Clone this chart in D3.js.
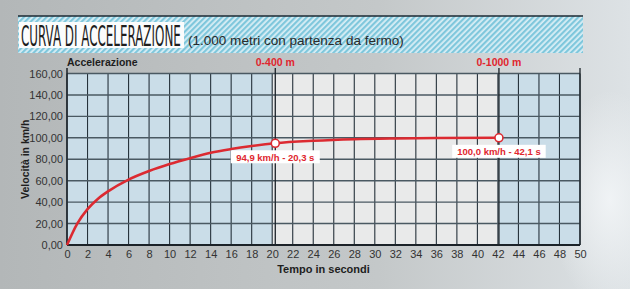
<!DOCTYPE html>
<html>
<head>
<meta charset="utf-8">
<script src="https://cdn.jsdelivr.net/npm/d3@7"></script>
<style>
  body { margin: 0; padding: 0; overflow: hidden; }
  svg { display: block; font-family: "Liberation Sans", Arial, sans-serif; }
</style>
</head>
<body>
<svg id="chart" width="630" height="289"></svg>
<script>
const time   = [0, 1, 2, 3, 4, 6, 8, 10, 12, 14, 16, 18, 20.3, 24, 28, 32, 36, 42.1];
const speed  = [0, 20, 33.5, 43, 50, 61, 69, 75.5, 81, 86, 89.5, 92.3, 94.9, 97.2, 98.7, 99.4, 99.8, 100];
const xTicks = d3.range(0, 51, 2);
const yTicks = [0, 20, 40, 60, 80, 100, 120, 140, 160];
const marks  = [{ t: 20.3, v: 94.9, label: '0-400 m', text: '94,9 km/h - 20,3 s' },
                { t: 42.1, v: 100,  label: '0-1000 m', text: '100,0 km/h - 42,1 s' }];

const width = 630, height = 289;
const svg = d3.select('#chart');
const defs = svg.append('defs');

// background gradient
const bg = defs.append('linearGradient').attr('id', 'bg');
bg.append('stop').attr('offset', '0%').attr('stop-color', '#b3b7b8');
bg.append('stop').attr('offset', '60%').attr('stop-color', '#c4c8c9');
bg.append('stop').attr('offset', '100%').attr('stop-color', '#dde2e5');
svg.append('rect').attr('width', width).attr('height', height).attr('fill', 'url(#bg)');

const glow = defs.append('radialGradient').attr('id', 'glow');
glow.append('stop').attr('offset', '0%').attr('stop-color', '#f2f5f7').attr('stop-opacity', 0.9);
glow.append('stop').attr('offset', '100%').attr('stop-color', '#f2f5f7').attr('stop-opacity', 0);
svg.append('ellipse').attr('cx', 610).attr('cy', 200).attr('rx', 60).attr('ry', 110).attr('fill', 'url(#glow)');

// hatched title band
const pat = defs.append('pattern').attr('id', 'hatch')
  .attr('width', 4).attr('height', 4)
  .attr('patternUnits', 'userSpaceOnUse')
  .attr('patternTransform', 'rotate(45)');
pat.append('rect').attr('width', 4).attr('height', 4).attr('fill', '#d9eef5');
pat.append('rect').attr('width', 2.2).attr('height', 4).attr('fill', '#7fc7dc');

svg.append('rect').attr('x', 18).attr('y', 16).attr('width', 565).attr('height', 37).attr('fill', 'url(#hatch)');
svg.append('line').attr('x1', 18).attr('x2', 583).attr('y1', 16).attr('y2', 16)
  .attr('stroke', '#1d2a33').attr('stroke-width', 1.5);

svg.append('rect').attr('x', 19).attr('y', 22).attr('width', 165).attr('height', 26).attr('fill', '#fbfcfc');

// fit a text into a given width by horizontal scaling
function fitText(sel, x0, y0, w, sy) {
  const nat = sel.node().getComputedTextLength();
  sel.attr('transform', `translate(${x0},${y0}) scale(${w / nat},${sy})`);
}
const title = svg.append('text')
  .attr('font-family', '"Liberation Sans Narrow", "DejaVu Sans Condensed", sans-serif')
  .attr('font-size', 22).attr('fill', '#1e1e1e')
  .text('CURVA DI ACCELERAZIONE');
fitText(title, 21, 46, 160, 1.3);
const sub = svg.append('text')
  .attr('font-size', 12).attr('fill', '#2a2a2a')
  .text('(1.000 metri con partenza da fermo)');
fitText(sub, 188, 45, 216, 1);

// scales
const x = d3.scaleLinear().domain([0, 50]).range([67, 580]);
const y = d3.scaleLinear().domain([0, 160]).range([245, 73.5]);

// zone fills
svg.append('rect').attr('x', x(0)).attr('y', y(160)).attr('width', x(20) - x(0)).attr('height', y(0) - y(160)).attr('fill', '#cadde8');
svg.append('rect').attr('x', x(20)).attr('y', y(160)).attr('width', x(42) - x(20)).attr('height', y(0) - y(160)).attr('fill', '#e9eaea');
svg.append('rect').attr('x', x(42)).attr('y', y(160)).attr('width', x(50) - x(42)).attr('height', y(0) - y(160)).attr('fill', '#cadde8');

// grid
svg.append('g').selectAll('line').data(xTicks).join('line')
  .attr('x1', d => x(d)).attr('x2', d => x(d))
  .attr('y1', y(0)).attr('y2', y(160))
  .attr('stroke', '#26323b').attr('stroke-width', 1.1);
svg.append('g').selectAll('line').data(yTicks).join('line')
  .attr('x1', x(0)).attr('x2', x(50))
  .attr('y1', d => y(d)).attr('y2', d => y(d))
  .attr('stroke', '#4a5962').attr('stroke-width', 1.4);

// axes
const xAxis = svg.append('g').attr('transform', `translate(0,${y(0)})`)
  .call(d3.axisBottom(x).tickValues(xTicks).tickSize(0).tickPadding(5));
xAxis.select('.domain').remove();
xAxis.selectAll('text').attr('font-size', 11).attr('fill', '#333').attr('font-family', '"Liberation Sans", Arial, sans-serif');

const yAxis = svg.append('g').attr('transform', `translate(${x(0)},0)`)
  .call(d3.axisLeft(y).tickValues(yTicks).tickSize(0).tickPadding(4)
    .tickFormat(d => d3.format('.2f')(d).replace('.', ',')));
yAxis.select('.domain').remove();
yAxis.selectAll('text').attr('font-size', 11).attr('fill', '#333').attr('font-family', '"Liberation Sans", Arial, sans-serif');

// frame lines
svg.append('line').attr('x1', x(0)).attr('x2', x(50)).attr('y1', y(0)).attr('y2', y(0)).attr('stroke', '#1b2228').attr('stroke-width', 2);
svg.append('line').attr('x1', x(0)).attr('x2', x(0)).attr('y1', y(0)).attr('y2', 68).attr('stroke', '#1b2228').attr('stroke-width', 1.5);
svg.append('line').attr('x1', x(50)).attr('x2', x(50)).attr('y1', y(0)).attr('y2', 68).attr('stroke', '#1b2228').attr('stroke-width', 1.3);

// markers lines
svg.append('g').selectAll('line').data(marks).join('line')
  .attr('x1', d => x(d.t)).attr('x2', d => x(d.t))
  .attr('y1', y(0)).attr('y2', 68)
  .attr('stroke', '#1b2228').attr('stroke-width', 1.3);

svg.append('g').selectAll('text').data(marks).join('text')
  .attr('x', d => x(d.t)).attr('y', 66)
  .attr('text-anchor', 'middle').attr('font-weight', 'bold').attr('font-size', 10.5)
  .attr('fill', '#e0262e').text(d => d.label);

svg.append('text').attr('x', 67).attr('y', 66).attr('font-weight', 'bold')
  .attr('font-size', 10.5).attr('fill', '#1e1e1e').text('Accelerazione');

// curve
const line = d3.line().x((d, i) => x(time[i])).y(d => y(d)).curve(d3.curveMonotoneX);
svg.append('path').datum(speed).attr('d', line)
  .attr('fill', 'none').attr('stroke', '#dc2a31').attr('stroke-width', 2.6);

// point labels
const lab = svg.append('g').selectAll('g').data(marks).join('g')
  .attr('transform', d => `translate(${x(d.t)},${y(d.v) + 14})`);
lab.append('rect').attr('x', d => -(d.text.length * 2.25) - 4).attr('y', -7)
  .attr('width', d => d.text.length * 4.5 + 8).attr('height', 13).attr('fill', '#fff');
lab.append('text').attr('text-anchor', 'middle').attr('y', 3.5)
  .attr('font-weight', 'bold').attr('font-size', 9.5).attr('fill', '#e0262e')
  .text(d => d.text);

svg.append('g').selectAll('circle').data(marks).join('circle')
  .attr('cx', d => x(d.t)).attr('cy', d => y(d.v)).attr('r', 4)
  .attr('fill', '#fff').attr('stroke', '#dc2a31').attr('stroke-width', 1.6);

// axis titles
svg.append('text').attr('x', x(25)).attr('y', 273).attr('text-anchor', 'middle')
  .attr('font-weight', 'bold').attr('font-size', 11).attr('fill', '#1e1e1e').text('Tempo in secondi');
svg.append('text').attr('transform', `translate(29,${y(80)}) rotate(-90)`).attr('text-anchor', 'middle')
  .attr('font-weight', 'bold').attr('font-size', 10.5).attr('fill', '#1e1e1e').text('Velocità in km/h');
</script>
</body>
</html>
